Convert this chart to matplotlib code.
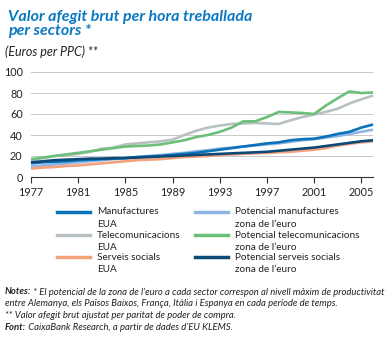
import matplotlib
matplotlib.use("Agg")
import matplotlib.pyplot as plt
from matplotlib.lines import Line2D

years = list(range(1977, 2007))

# EUA series
manuf_eua = [13, 14, 14.5, 15, 16, 16.5, 17, 17.5, 18, 19, 19.5, 20, 21, 22, 23, 24.5,
             26, 27.5, 29, 30.5, 32, 33, 35, 36, 36.5, 38.5, 41, 43, 47, 50]
telecom_eua = [16, 18, 20, 21, 22, 24, 27, 28, 31, 32, 33, 34, 35.5, 40, 44, 47,
               49, 50.5, 51, 51.5, 51, 50.5, 54, 57, 59.5, 62, 65, 70, 74, 77.5]
serveis_eua = [8, 9, 9.5, 10.5, 11, 12, 13, 14, 15, 16, 16.5, 17, 18, 19, 19.5, 20,
               21, 21.5, 22, 22.5, 23, 23.5, 24, 25, 26, 27.5, 30, 31.5, 33, 34]

# Potencial zona de l'euro
pot_manuf = [10, 11, 12, 13, 14, 15, 16, 17, 18, 19, 20, 21, 22, 23, 24.5, 25.5,
             27, 28, 29, 30, 31, 32, 33.5, 35, 36, 37.5, 39, 41, 43, 45]
pot_telecom = [17, 18.5, 20, 21.5, 23, 24.5, 26, 27.5, 29, 29.5, 30, 31, 33, 35, 38, 40,
               43, 47, 53, 53, 57, 62, 61.5, 61, 60, 68, 75, 81.5, 80, 80.5]
pot_serveis = [14, 15, 16, 16.5, 17, 17.5, 17.5, 18, 18, 18.5, 19, 19.5, 20, 20.5, 21, 21.5,
               22, 22.5, 23, 23.5, 24, 25, 26, 27, 28, 29.5, 31, 32.5, 34, 35]

series = [
    ("Manufactures\nEUA", manuf_eua, "#0a72b9"),
    ("Telecomunicacions\nEUA", telecom_eua, "#b9c0c4"),
    ("Serveis socials\nEUA", serveis_eua, "#f5a27c"),
    ("Potencial manufactures\nzona de l\u2019euro", pot_manuf, "#8fb5e3"),
    ("Potencial telecomunicacions\nzona de l\u2019euro", pot_telecom, "#6cbf78"),
    ("Potencial serveis socials\nzona de l\u2019euro", pot_serveis, "#0b4a78"),
]
draw_order = [1, 4, 3, 0, 2, 5]

xticks = list(range(1977, 2006, 4))
yticks = [0, 20, 40, 60, 80, 100]

plt.rcParams["font.family"] = ["Lato", "DejaVu Sans"]
W, H = 391, 338
txt = "#222222"

fig = plt.figure(figsize=(W / 100, H / 100), dpi=100)
ax = fig.add_axes([31 / W, 1 - 177 / H, (373 - 31) / W, 105 / H])

for i in draw_order:
    label, vals, color = series[i]
    ax.plot(years, vals, color=color, lw=1.9, solid_capstyle="butt", clip_on=False)

ax.set_xlim(1977, 2006)
ax.set_ylim(0, 100)
ax.set_xticks(xticks)
ax.set_yticks(yticks)
ax.grid(axis="y", color="#c8c8c8", lw=0.7)
ax.set_axisbelow(True)
for s in ["left", "right", "top"]:
    ax.spines[s].set_visible(False)
ax.spines["bottom"].set_color("#333333")
ax.spines["bottom"].set_linewidth(0.8)
ax.tick_params(axis="y", length=0, labelsize=7.8, pad=6, labelcolor=txt)
ax.tick_params(axis="x", length=4, width=0.8, color="#333333", labelsize=7.8, pad=3,
               labelcolor=txt)

# titles
blue = "#0a78c2"
for line, base in [("Valor afegit brut per hora treballada", 20.7), ("per sectors *", 34.5)]:
    fig.text(8 / W, 1 - base / H, line, color=blue, fontsize=11.5, fontweight="bold",
             style="italic", va="baseline", ha="left")
fig.text(5 / W, 1 - 56 / H, "(Euros per PPC) **", fontsize=9, style="italic",
         va="baseline", ha="left", color=txt)

# legend drawn by hand to keep the handle on the first text line
col_x = [57, 195]
row_y = [212, 235, 257]
for k, (label, vals, color) in enumerate(series):
    c, r = k // 3, k % 3
    x0 = col_x[c] / W
    y0 = 1 - row_y[r] / H
    fig.add_artist(Line2D([x0, x0 + 33 / W], [y0, y0], color=color, lw=2.5,
                          transform=fig.transFigure))
    for j, part in enumerate(label.split("\n")):
        fig.text(x0 + 40 / W, y0 - j * 12.3 / H, part, fontsize=7.2, va="center",
                 ha="left", color=txt)

# notes
nsize = 6.8
notes = [
    ("Notes:", " * El potencial de la zona de l\u2019euro a cada sector correspon al nivell m\u00e0xim de productivitat"),
    ("", "entre Alemanya, els Pa\u00efsos Baixos, Fran\u00e7a, It\u00e0lia i Espanya en cada per\u00edode de temps."),
    ("", "** Valor afegit brut ajustat per paritat de poder de compra."),
    ("Font:", " CaixaBank Research, a partir de dades d\u2019EU KLEMS."),
]
for j, (bold, rest) in enumerate(notes):
    y = 1 - (292 + j * 11.7) / H
    if bold:
        t = fig.text(5 / W, y, bold, fontsize=nsize, fontweight="bold", style="italic",
                     va="center", ha="left", color=txt)
        ax.annotate(rest, xy=(1, 0.5), xycoords=t, fontsize=nsize, style="italic",
                    va="center", ha="left", color=txt, annotation_clip=False)
    else:
        fig.text(5 / W, y, rest, fontsize=nsize, style="italic",
                 va="center", ha="left", color=txt)

fig.savefig("out.png", dpi=100, facecolor="white")
